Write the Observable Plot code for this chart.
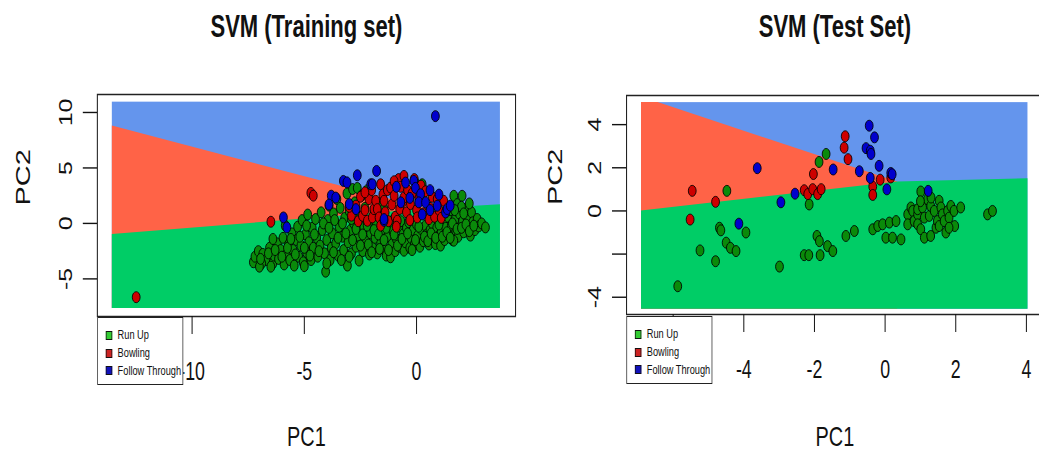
<!DOCTYPE html>
<html><head><meta charset="utf-8">
<script src="https://cdn.jsdelivr.net/npm/d3@7"></script>
<script src="https://cdn.jsdelivr.net/npm/@observablehq/plot@0.6"></script>
<style>
html,body{margin:0;padding:0;background:#fff;overflow:hidden;width:1039px;height:453px}
#wrap{position:absolute;left:0;top:0;width:1463px;height:453px;transform:scaleX(0.7102);transform-origin:0 0;font-family:"Liberation Sans",Arial,sans-serif;overflow:hidden}
.panel{position:absolute;top:0}
.legend{position:absolute;background:#fff;border:1.4px solid #222;box-sizing:border-box;font-size:13px;color:#111}
.legend .sq{position:absolute;width:9px;height:9px;border:1px solid #111;box-sizing:border-box}
.legend .lb{position:absolute;line-height:13px;white-space:nowrap}
</style></head><body>
<div id="wrap"></div>
<script>
// ---------- data ----------
const classes = ["Run Up", "Bowling", "Follow Through"];
const pointColors = ["#0A8A0A", "#CD0000", "#0000CD"];
const regionColors = ["#00CD66", "#FF6347", "#6495ED"]; // Run Up, Bowling, Follow Through
const legendColors = ["#33CC33", "#CC2222", "#1111BB"];
const titles = ["SVM (Training set)", "SVM (Test Set)"];

// Training set decision regions
const trainGridX = [-13.56, 3.73];
const trainGridY = [-7.66, 10.93];
const trainBowlTopX = [-13.56, 0.5];
const trainBowlTopY = [8.78, 1.3];
const trainRunTopX = [-13.56, 0.5, 3.73];
const trainRunTopY = [-1.01, 1.3, 1.68];
const trainXTicks = [-10, -5, 0];
const trainXLabels = ["-10", "-5", "0"];
const trainYTicks = [-5, 0, 5, 10];
const trainYLabels = [-5, 0, 5, 10];

// Test set decision regions
const testGridX = [-6.9, 4.04];
const testGridY = [-4.56, 5.02];
const testBowlTopX = [-6.9, -6.43, 0.35];
const testBowlTopY = [5.02, 5.02, 1.34];
const testRunTopX = [-6.9, 0.35, 4.04];
const testRunTopY = [0.0, 1.34, 1.49];
const testXTicks = [-6, -4, -2, 0, 2, 4];
const testXLabels = ["", "-4", "-2", "0", "2", "4"]; // -6 hidden behind the legend
const testYTicks = [-4, -2, 0, 2, 4];
const testYLabels = [-4, 0, 2, 4];

// Training points [PC1, PC2]
const trainRunUp = [[-7.27,-3.5],[-7.2,-3.0],[-7.05,-2.5],[-6.85,-2.75],[-6.7,-3.3],[-6.55,-2.2],[-6.4,-3.6],[-6.35,-2.9],[-6.2,-1.8],[-6.4,-1.4],[-6.15,-3.2],[-6.05,-2.4],[-5.95,-1.3],[-5.9,-3.7],[-5.85,-0.2],[-5.8,-2.8],[-5.7,-1.9],[-5.65,-3.3],[-5.55,-0.9],[-5.5,-2.4],[-5.45,-3.8],[-5.35,-1.5],[-5.3,-0.3],[-5.25,-3.0],[-5.15,-2.0],[-5.1,0.3],[-5.05,-3.5],[-4.95,-1.0],[-4.9,-2.6],[-4.85,0.8],[-4.8,-1.7],[-4.7,-3.3],[-4.65,-0.4],[-4.6,-2.2],[-4.5,0.4],[-4.45,-1.3],[-4.4,-3.0],[-4.3,-2.0],[-4.25,1.0],[-4.2,-0.6],[-4.1,-2.7],[-4.05,-4.35],[-4.0,-1.5],[-3.95,0.3],[-3.9,1.6],[-3.85,-3.3],[-3.8,-2.2],[-3.75,-0.9],[-3.7,0.9],[-3.6,-1.8],[-3.55,2.2],[-3.5,-2.9],[-3.45,-0.3],[-3.4,1.4],[-3.3,-1.2],[-3.25,-2.4],[-3.2,0.5],[-3.1,2.7],[-3.08,-3.8],[-3.05,-1.7],[-3.0,1.1],[-2.95,-0.6],[-2.9,-2.7],[-2.85,3.1],[-2.8,0.0],[-2.75,1.9],[-2.7,-2.1],[-2.64,3.2],[-2.6,-1.1],[-2.56,-3.35],[-2.5,0.6],[-2.45,2.5],[-2.4,-2.5],[-2.35,-0.4],[-2.3,1.4],[-2.25,-1.6],[-2.2,3.0],[-2.1,-2.8],[-2.05,-0.9],[-2.0,0.3],[-1.95,-2.2],[-1.9,1.0],[-1.85,-1.3],[-1.8,-0.2],[-1.75,-2.7],[-1.7,1.8],[-1.6,-1.8],[-1.55,-0.6],[-1.5,0.6],[-1.45,1.3],[-1.4,-2.4],[-1.35,-2.9],[-1.3,-1.2],[-1.2,-0.1],[-1.16,-3.05],[-1.1,-1.9],[-1.05,-0.7],[-1.0,0.4],[-0.95,-2.5],[-0.9,-1.4],[-0.8,-0.3],[-0.75,-2.1],[-0.7,0.2],[-0.6,-1.0],[-0.56,-2.46],[-0.5,-1.7],[-0.45,-0.4],[-0.35,0.1],[-0.3,-2.2],[-0.25,-1.3],[-0.15,-0.6],[-0.1,-1.9],[0.0,3.5],[0.0,-0.1],[0.05,-1.1],[0.15,-2.1],[0.2,-0.5],[0.25,3.53],[0.3,-1.6],[0.4,-0.2],[0.45,-1.0],[0.55,-1.9],[0.6,-0.6],[0.7,0.0],[0.75,-1.4],[0.84,-1.86],[0.9,-0.4],[0.95,0.3],[1.0,-1.1],[1.1,-0.7],[1.07,-2.0],[1.2,0.0],[1.25,-1.5],[1.3,-0.4],[1.4,0.6],[1.45,-1.0],[1.5,1.2],[1.55,-0.2],[1.6,-1.5],[1.66,2.49],[1.7,0.3],[1.75,-0.7],[1.81,1.74],[1.85,-1.2],[1.9,0.9],[1.95,-0.3],[2.03,2.49],[2.05,0.2],[2.1,-0.8],[2.2,1.3],[2.25,0.54],[2.3,-0.3],[2.4,-1.1],[2.45,1.0],[2.5,0.1],[2.6,-0.6],[2.7,0.4],[2.77,-0.27],[2.9,0.0],[3.07,-0.36],[1.66,-1.56],[2.0,1.5],[-6.49,-3.9],[-5.0,-3.85],[-6.9,-3.6],[-7.0,-3.9],
[-6.95,-3.2],[-6.6,-2.7],[-6.3,-2.4],[-6.0,-3.0],[-5.75,-2.2],[-5.6,-1.4],[-5.4,-2.8],[-5.2,-1.2],[-5.0,-2.2],[-4.9,-0.2],[-4.75,-2.9],[-4.55,-1.0],[-4.35,-2.5],[-4.15,0.0],[-4.0,-3.6],[-3.9,-0.4],[-3.7,-2.6],[-3.65,0.3],[-3.5,-1.3],[-3.35,-3.3],[-3.3,0.0],[-3.15,-0.9],[-3.0,-3.0],[-2.9,0.4],[-2.85,-1.5],[-2.7,-0.5],[-2.5,-2.0],[-2.4,-1.0],[-2.2,-0.2],[-2.15,-1.9],[-2.0,-2.6],[-1.9,-0.6],[-1.7,-1.0],[-1.65,-2.3],[-1.45,-1.5],[-1.35,-0.4],[-1.25,-2.4],[-1.0,-1.0],[-0.85,-2.0],[-0.65,-1.4],[-0.4,-0.9],[-0.2,-2.4],[-0.05,-1.5],[0.1,-0.3],[0.35,-1.2],[0.5,-1.6],[0.65,-0.9],[0.85,-1.3],[1.0,-0.1],[1.15,-1.2],[1.35,-0.8],[1.5,-1.3],[1.6,0.0],[1.8,-0.5],[2.0,-0.4],[2.2,-0.1],[2.35,-0.7],[2.55,-0.2],[2.1,0.9],[1.3,1.0],[1.7,1.2],[2.35,1.8]];
const trainBowling = [[-12.49,-6.65],[-4.71,2.75],[-4.6,2.5],[-6.49,0.15],[-2.9,0.7],[-2.7,1.6],[-2.6,0.2],[-2.5,2.4],[-2.41,0.69],[-2.3,1.2],[-2.19,0.24],[-2.12,2.19],[-2.0,3.0],[-1.97,0.54],[-1.9,1.29],[-1.82,2.04],[-1.75,1.29],[-1.67,0.54],[-1.6,3.53],[-1.5,2.6],[-1.45,2.04],[-1.4,1.0],[-1.3,3.0],[-1.25,0.2],[-1.16,3.23],[-1.1,1.7],[-1.0,2.49],[-0.95,0.6],[-0.86,0.24],[-0.8,4.0],[-0.75,1.3],[-0.7,3.3],[-0.6,2.0],[-0.56,4.28],[-0.56,2.34],[-0.45,1.0],[-0.4,3.0],[-0.3,0.3],[-0.27,1.74],[-0.2,2.7],[-0.1,4.0],[0.0,1.2],[0.03,0.54],[0.1,2.2],[0.2,3.4],[0.3,0.9],[0.4,2.9],[0.55,0.39],[0.6,1.4],[0.7,2.4],[0.8,0.6],[0.92,2.2],[1.0,1.2],[1.1,0.5],[1.21,2.04],[-1.0,3.8],[-2.3,2.8],[-3.0,1.5],[-1.6,-0.2],[-0.9,-0.3]];
const trainFollow = [[0.84,9.67],[-5.93,0.54],[-5.78,-0.36],[-3.26,3.83],[-3.1,3.7],[-2.64,4.34],[-1.78,4.73],[-3.8,2.5],[-3.9,1.7],[-3.6,2.33],[-3.0,1.74],[-2.7,1.29],[-2.04,3.53],[-1.45,0.24],[-1.45,0.39],[-0.49,3.68],[-0.12,3.83],[-0.05,3.2],[0.18,2.63],[0.1,1.9],[0.4,1.89],[0.6,3.0],[0.92,1.59],[1.29,0.99],[1.36,1.3],[-0.3,2.3],[-0.7,1.9],[0.25,0.8],[1.0,2.6],[-1.97,3.53],[-0.9,3.3],[1.5,1.6],[0.6,1.2]];

// Test points [PC1, PC2]
const testRunUp = [[-5.87,-3.49],[-5.24,-1.83],[-4.8,-2.33],[-4.69,-0.78],[-4.65,-0.9],[-4.48,0.93],[-4.5,-1.47],[-4.38,-1.71],[-4.22,-1.86],[-3.94,-1.0],[-2.99,-2.58],[-2.29,-2.05],[-2.16,-2.05],[-2.15,0.3],[-1.87,2.27],[-1.67,2.64],[-1.93,-1.16],[-1.86,-1.4],[-1.84,-2.05],[-1.63,-1.63],[-1.48,-1.86],[-1.11,-1.16],[-0.87,-0.93],[-0.35,-0.85],[-0.21,-0.7],[-0.07,-0.62],[0.12,-0.54],[0.31,-0.47],[0.02,-1.24],[0.21,-1.24],[0.45,-1.32],[1.01,0.9],[0.64,-0.16],[0.64,-0.62],[0.73,0.16],[0.78,0.0],[0.82,-0.47],[0.92,-0.16],[0.92,0.08],[0.92,-0.62],[1.01,-0.85],[1.06,0.16],[1.11,-0.31],[1.11,-1.24],[1.2,0.54],[1.25,-0.23],[1.29,0.23],[1.29,-1.16],[1.39,0.0],[1.44,-0.78],[1.48,-0.47],[1.53,0.47],[1.53,-0.7],[1.58,0.16],[1.62,-0.16],[1.67,-0.47],[1.72,-1.0],[1.77,0.0],[1.81,-0.31],[1.86,0.23],[1.95,0.0],[1.97,-0.7],[2.14,0.16],[2.9,-0.16],[3.04,0.0],[1.3,0.62],[1.0,0.45],[1.81,-0.78]];
const testBowling = [[-5.46,0.93],[-5.52,-0.4],[-4.8,0.42],[-2.29,0.96],[-2.19,0.78],[-2.05,1.01],[-1.91,0.78],[-1.81,1.01],[-2.03,1.71],[-1.13,3.46],[-1.16,2.93],[-1.05,2.4],[-0.35,1.13],[-0.35,0.74],[-0.14,1.45],[0.16,1.55]];
const testFollow = [[-3.62,1.98],[-4.14,-0.59],[-2.95,0.4],[-2.55,0.8],[-1.47,1.92],[-0.73,1.84],[-0.45,3.95],[-0.3,3.41],[-0.54,2.91],[-0.42,2.79],[-0.4,2.64],[-0.17,2.09],[-0.42,1.53],[0.16,1.76],[0.2,1.7],[0.05,1.0],[1.22,0.93]];

// ---------- drawing ----------
const FONT = '"Liberation Sans", Arial, sans-serif';
function toRows(groups) {
  const rows = [];
  groups.forEach((g, k) => g.forEach(([x, y]) => rows.push({x, y, k})));
  return rows;
}
function zip(xs, ys) { return xs.map((x, i) => ({x, y: ys[i]})); }

function panel(cfg) {
  const gx = cfg.gridX, gy = cfg.gridY;
  return Plot.plot({
    width: cfg.width, height: 453,
    marginLeft: cfg.ml, marginRight: cfg.mr, marginTop: cfg.mt, marginBottom: cfg.mb,
    x: {domain: cfg.xDomain},
    y: {domain: cfg.yDomain},
    style: {fontFamily: FONT, background: "transparent", overflow: "visible", maxWidth: "none", color: "#111"},
    marks: [
      Plot.rect([0], {x1: () => gx[0], x2: () => gx[1], y1: () => gy[0], y2: () => gy[1], fill: regionColors[2]}),
      Plot.areaY(zip(cfg.bowlX, cfg.bowlY), {x: "x", y1: () => gy[0], y2: "y", fill: regionColors[1]}),
      Plot.areaY(zip(cfg.runX, cfg.runY), {x: "x", y1: () => gy[0], y2: "y", fill: regionColors[0]}),
      Plot.dot(toRows(cfg.points), {x: "x", y: "y", r: 5.5, fill: d => pointColors[d.k], stroke: "#000", strokeWidth: 1}),
      Plot.frame({stroke: "#222", strokeWidth: 1.5}),
      Plot.axisX({ticks: cfg.xTicks, tickSize: 18, tickPadding: 28, fontSize: 25, tickFormat: d => cfg.xLabels[cfg.xTicks.indexOf(d)], label: null, strokeWidth: 1.4}),
      Plot.axisY({ticks: cfg.yTicks, tickSize: 20, tickFormat: () => "", label: null, strokeWidth: 1.4}),
      Plot.text(cfg.yLabels, {y: d => d, text: d => String(d), frameAnchor: "left", dx: cfg.yLabDx, rotate: -90, fontSize: 25, textAnchor: "middle", lineAnchor: "middle"}),
      Plot.text(["PC2"], {frameAnchor: "left", dx: cfg.pc2Dx, rotate: -90, fontSize: 29, lineAnchor: "middle"}),
      Plot.text(["PC1"], {frameAnchor: "bottom", dy: cfg.pc1Dy, fontSize: 28, lineAnchor: "middle"}),
      Plot.text([cfg.title], {frameAnchor: "top", dy: cfg.titleDy, fontSize: 31, fontWeight: "bold", lineAnchor: "middle"})
    ]
  });
}

const wrap = document.getElementById("wrap");
function place(el, left) {
  const d = document.createElement("div");
  d.className = "panel"; d.style.left = left + "px";
  d.appendChild(el); wrap.appendChild(d);
}
function legend(left, top) {
  const L = document.createElement("div");
  L.className = "legend";
  Object.assign(L.style, {left: left + "px", top: top + "px", width: "121px", height: "68px"});
  const rowY = [17, 35, 52.5];
  classes.forEach((c, i) => {
    const s = document.createElement("div");
    s.className = "sq";
    Object.assign(s.style, {left: "11px", top: (rowY[i] - 4.5) + "px", background: legendColors[i]});
    const t = document.createElement("div");
    t.className = "lb"; t.textContent = c;
    Object.assign(t.style, {left: "28px", top: (rowY[i] - 7) + "px"});
    L.appendChild(s); L.appendChild(t);
  });
  wrap.appendChild(L);
}

place(panel({
  width: 731, ml: 136.6, mr: 5.6, mt: 94, mb: 137,
  xDomain: [-14.22, 4.41], yDomain: [-8.39, 11.62],
  gridX: trainGridX, gridY: trainGridY,
  bowlX: trainBowlTopX, bowlY: trainBowlTopY, runX: trainRunTopX, runY: trainRunTopY,
  points: [trainRunUp, trainBowling, trainFollow],
  xTicks: trainXTicks, xLabels: trainXLabels, yTicks: trainYTicks, yLabels: trainYLabels,
  yLabDx: -44, pc2Dx: -104, pc1Dy: 121, titleDy: -67, title: titles[0]
}), 0);

place(panel({
  width: 745, ml: 150.7, mr: 7.4, mt: 95, mb: 139,
  xDomain: [-7.32, 4.48], yDomain: [-4.8, 5.35],
  gridX: testGridX, gridY: testGridY,
  bowlX: testBowlTopX, bowlY: testBowlTopY, runX: testRunTopX, runY: testRunTopY,
  points: [testRunUp, testBowling, testFollow],
  xTicks: testXTicks, xLabels: testXLabels, yTicks: testYTicks, yLabels: testYLabels,
  yLabDx: -44, pc2Dx: -100, pc1Dy: 123, titleDy: -68, title: titles[1]
}), 731);

legend(136.6, 317);
legend(881.7, 316);
</script>
</body></html>
